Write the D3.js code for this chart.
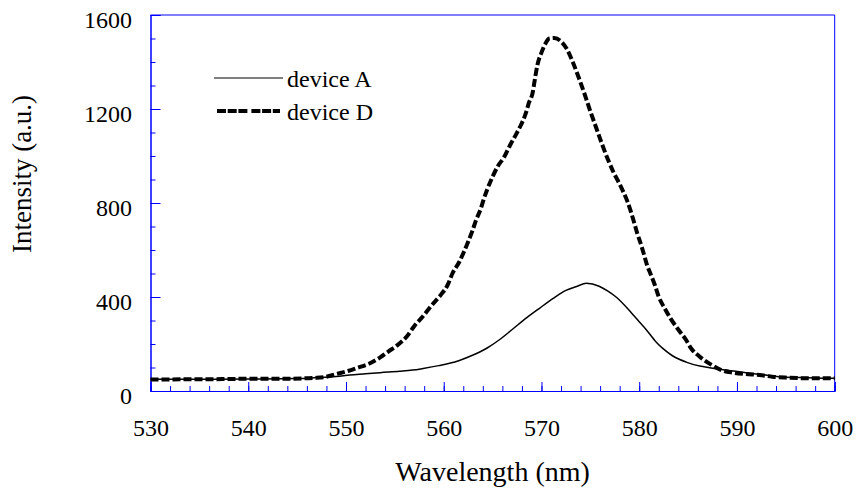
<!DOCTYPE html>
<html>
<head>
<meta charset="utf-8">
<script src="https://cdn.jsdelivr.net/npm/d3@7"></script>
<style>
  html, body { margin: 0; padding: 0; background: #fff; }
  svg { display: block; }
</style>
</head>
<body>
<svg id="chart" width="858" height="490"></svg>
<script>
// ---- data ----
const wavelengthA = [530, 535, 540, 545, 547, 549, 550.4, 552, 553.5, 555.5, 556.8, 557.9, 559.5, 560.6, 561.6, 563.0, 564.4, 565.7, 567.1, 568.5, 569.8, 571.2, 572.5, 573.6, 574.6, 575.9, 576.8, 577.6, 578.5, 579.3, 580.0, 580.7, 581.7, 582.5, 583.4, 584.8, 586.2, 587.2, 589.0, 590.9, 592.5, 594.3, 596.5, 598.0, 600];
const intensityA  = [50, 50, 51, 53, 57, 62, 68, 73, 78, 84, 89, 96, 108, 118, 130, 153, 182, 218, 265, 312, 352, 394, 428, 445, 458, 446, 425, 401, 365, 328, 295, 262, 210, 178, 150, 123, 106, 99, 88, 78, 70, 61, 57, 55, 54];

const wavelengthD = [530, 532, 534, 536, 538, 540, 542, 544, 545.8, 547.0, 548.0, 549.0, 550.2, 551.2, 552.3, 553.5, 554.3, 555.2, 556.2, 557.0, 557.9, 558.8, 559.7, 560.4, 560.9, 561.6, 562.0, 562.5, 562.9, 563.3, 563.8, 564.1, 564.5, 565.0, 565.5, 566.2, 566.8, 567.4, 567.9, 568.4, 568.7, 569.1, 569.3, 569.6, 570.0, 570.4, 570.8, 571.3, 572.0, 572.6, 573.2, 573.8, 574.4, 575.0, 575.6, 576.2, 576.8, 577.4, 578.0, 578.4, 578.8, 579.2, 579.5, 579.8, 580.2, 580.5, 580.8, 581.2, 581.6, 582.0, 582.6, 583.2, 583.9, 584.8, 585.3, 586.2, 587.4, 588.4, 589.6, 590.9, 592.3, 593.6, 595.0, 597.7, 600];
const intensityD  = [49, 49, 50, 50, 51, 52, 52, 52, 54, 56, 61, 72, 85, 99, 115, 143, 167, 193, 231, 277, 319, 366, 409, 451, 501, 550, 586, 635, 678, 726, 777, 817, 863, 912, 954, 997, 1047, 1092, 1132, 1182, 1225, 1270, 1320, 1390, 1440, 1478, 1500, 1502, 1488, 1455, 1400, 1335, 1265, 1190, 1120, 1050, 985, 928, 880, 845, 806, 756, 714, 671, 621, 579, 536, 494, 451, 401, 352, 309, 267, 217, 182, 146, 111, 89, 78, 72, 68, 61, 57, 54, 54];

const xMajorTicks = [530, 540, 550, 560, 570, 580, 590, 600];
const xMinorTicks = d3.range(530, 601, 2);
const yMajorTicks = [0, 400, 800, 1200, 1600];
const yMinorTicks = d3.range(0, 1601, 100);
const seriesNames = ["device A", "device D"];
const xTitle = "Wavelength (nm)";
const yTitle = "Intensity (a.u.)";

// ---- layout ----
const FONT = "\"Liberation Serif\", \"Times New Roman\", serif";
const svg = d3.select("#chart");
const mLeft = 150.5, mRight = 834.7, mTop = 15, mBottom = 391;
const axisColor = "#0000ff";

const x = d3.scaleLinear().domain([530, 600]).range([mLeft, mRight]);
const y = d3.scaleLinear().domain([0, 1600]).range([mBottom, mTop]);

// frame (top and right)
svg.append("line").attr("x1", mLeft).attr("x2", mRight).attr("y1", mTop).attr("y2", mTop)
  .attr("stroke", axisColor).attr("stroke-width", 1);
svg.append("line").attr("x1", mRight).attr("x2", mRight).attr("y1", mTop).attr("y2", mBottom)
  .attr("stroke", axisColor).attr("stroke-width", 1);

const gxMinor = svg.append("g").attr("transform", `translate(0,${mBottom})`)
  .call(d3.axisBottom(x).tickValues(xMinorTicks).tickSize(-5).tickFormat(""));
const gx = svg.append("g").attr("transform", `translate(0,${mBottom})`)
  .call(d3.axisBottom(x).tickValues(xMajorTicks).tickSize(-9).tickFormat(d3.format("d")));
const gyMinor = svg.append("g").attr("transform", `translate(${mLeft},0)`)
  .call(d3.axisLeft(y).tickValues(yMinorTicks).tickSize(-5).tickFormat(""));
const gy = svg.append("g").attr("transform", `translate(${mLeft},0)`)
  .call(d3.axisLeft(y).tickValues(yMajorTicks).tickSize(-10).tickFormat(d3.format("d")));

[gxMinor, gx, gyMinor, gy].forEach(g => {
  g.attr("font-family", null).attr("font-size", null);
  g.select(".domain").attr("stroke", axisColor).attr("stroke-width", 1);
  g.selectAll(".tick line").attr("stroke", axisColor).attr("stroke-width", 1);
});

gx.selectAll(".tick text")
  .attr("y", 45).attr("dy", null)
  .attr("fill", "#000")
  .style("font-family", FONT)
  .style("font-size", "24px");
gy.selectAll(".tick text")
  .attr("x", -18.5).attr("dy", "12px")
  .attr("fill", "#000")
  .attr("text-anchor", "end")
  .style("font-family", FONT)
  .style("font-size", "24px");

// axis titles
svg.append("text")
  .attr("x", (mLeft + mRight) / 2).attr("y", 481)
  .attr("text-anchor", "middle")
  .style("font-family", FONT)
  .style("font-size", "28px")
  .text(xTitle);
svg.append("text")
  .attr("transform", `translate(31,174) rotate(-90)`)
  .attr("text-anchor", "middle")
  .style("font-family", FONT)
  .style("font-size", "27px")
  .text(yTitle);

// series
const line = d3.line().x(d => x(d[0])).y(d => y(d[1])).curve(d3.curveMonotoneX);
const dataA = wavelengthA.map((w, i) => [w, intensityA[i]]);
const dataD = wavelengthD.map((w, i) => [w, intensityD[i]]);

svg.append("path").datum(dataA)
  .attr("d", line)
  .attr("fill", "none").attr("stroke", "#000").attr("stroke-width", 1.5);
svg.append("path").datum(dataD)
  .attr("d", line)
  .attr("fill", "none").attr("stroke", "#000").attr("stroke-width", 4)
  .attr("stroke-dasharray", "8,3").attr("stroke-linecap", "butt");

// legend
const legend = svg.append("g");
legend.append("line").attr("x1", 214).attr("x2", 283).attr("y1", 78).attr("y2", 78)
  .attr("stroke", "#000").attr("stroke-width", 1.2);
legend.append("text").attr("x", 287).attr("y", 87)
  .style("font-family", FONT).style("font-size", "24px").text(seriesNames[0]);
legend.append("line").attr("x1", 217).attr("x2", 280).attr("y1", 111).attr("y2", 111)
  .attr("stroke", "#000").attr("stroke-width", 4)
  .attr("stroke-dasharray", "9,1.7,9,1.7,9,4");
legend.append("text").attr("x", 287).attr("y", 120)
  .style("font-family", FONT).style("font-size", "24px").text(seriesNames[1]);
</script>
</body>
</html>
